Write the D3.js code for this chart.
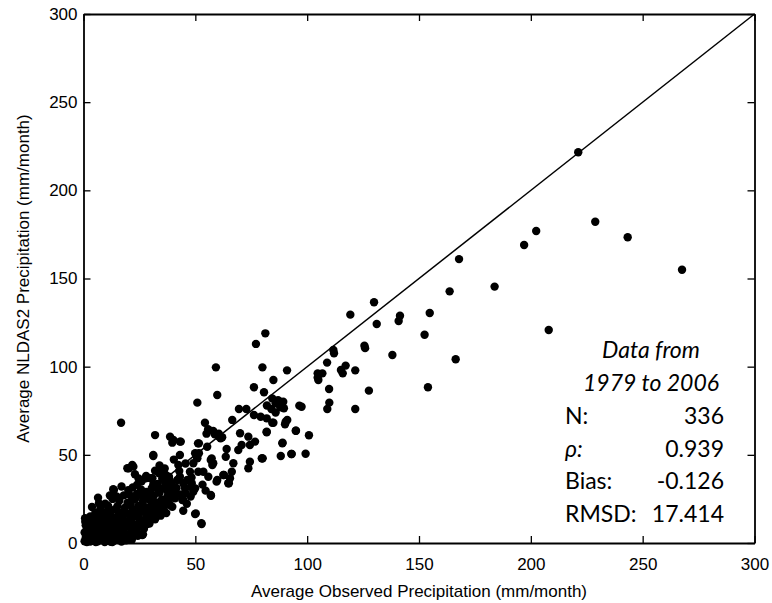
<!DOCTYPE html>
<html>
<head>
<meta charset="utf-8">
<script src="https://cdn.jsdelivr.net/npm/d3@7"></script>
<style>
  body { margin: 0; background: #fff; }
  .axis text { font-family: "Liberation Sans", Arial, sans-serif; font-size: 17px; fill: #000; }
  .axis path { stroke: #000; stroke-width: 1.8; }
  .axis line { stroke: #000; stroke-width: 1.3; }
  .stats text { font-family: Lato, "Open Sans", sans-serif; font-size: 23px; fill: #000; }
</style>
</head>
<body>
<div id="chart"></div>
<script>
// tick values used on both axes
var xTicks = [0, 50, 100, 150, 200, 250, 300];
var yTicks = [0, 50, 100, 150, 200, 250, 300];

// observed (x) vs NLDAS2 (y), mm/month
var scatterPoints = [
  // outliers / upper part
  [221.2,221.6],[228.8,182.2],[243.3,173.4],[267.6,155],[208,120.8],[202.4,176.9],[197,169],
  [167.9,161],[183.8,145.4],[163.7,142.7],[129.9,136.5],[119.3,129.5],[141.5,128.9],[140.9,125.9],
  [154.8,130.4],[131.1,124.2],[152.5,118.1],[125.6,111.9],[125.9,110.5],[111.7,109.5],[112,107.6],
  [108.9,102.3],[138.1,106.6],[166.4,104.2],[104.7,96.2],[106.8,96.2],[104.7,93.8],[117.2,100.6],
  [115.1,98.1],[115.9,96.2],[121.5,97.9],[109.8,87.3],[127.6,86.4],[154,88.3],
  // middle
  [105,92.4],[97.5,77.3],[109.9,79.6],[109,76],[121.5,76],[100.8,61.1],[99.3,50.6],[96.5,77.9],
  [81.3,118.9],[77.1,112.9],[59.2,99.6],[80,99.6],[91,97.9],[84.9,92.4],[80.7,85.5],[76.2,88.3],
  [59.8,83.9],[50.9,79.6],[69.5,76],[72.8,76],[76.2,72.6],[79.2,71.6],[81.9,70.7],[84.4,82],
  [85.9,79.2],[89.3,80.1],[89.6,76.4],[90.4,68.8],[84.4,68.2],[94.9,63.7],[88.9,56.5],[88.2,49.3],
  [92.9,50.5],[81.9,63.1],[79.9,48],[66.5,69.8],[54.3,68.2],[55.7,64.5],[58.7,61.6],[60.6,60.3],
  [61.3,59.4],[32,61.2],[38.7,60.3],[39.7,56.9],[43.5,57.5],[31.2,49.9],[51.2,56.5],[51.6,50.9],
  [50.9,48],[56.9,47.1],[57.6,44.2],[55.3,54.6],[63.6,48.9],[59.8,35.7],[62.8,38.6],[65,33.9],
  [56.9,27.2],[50.2,16.8],[52.7,11.2],[46.4,35.7],[47.9,31.9],[45.7,28.2],[44.2,24.4],[38.2,37.6],
  [41.9,35.7],[39,31.9],[41.2,28.2],[37.5,26.3],[39.7,20.6],[34.5,40.4],[27.8,36.7],[30.8,36.7],
  [19.6,42.4],[21.8,44.2],[13.6,30.1],[26.3,4.5],[12.9,0.5],[16.8,68.2],
  [85.9,74],[88,77],[87,81],[84,76],[82,78],[84.9,68.2],[90.1,67.3],[91.1,69.8],[81.9,62.8],
  [95,63.7],[89,56.9],[80.1,48],[93.1,50.5],[70,62.2],[73.7,60.3],[70.7,55.6],[74.4,55.6],
  [76.7,57.5],[79.7,48],[74.4,46.1],[73.7,42.4],[64,53.3],[69.2,52.7],[67,45.2],[49.9,50.9],
  [50.6,48.9],[43.1,49.9],[57.3,48],[58,45.2],[42.4,44.2],[47.6,40.4],[51.3,40.4],[53.6,40.4],
  [49.1,45.2],[62.5,38.6],[66.3,40.4],[65.5,36.7],[64.7,33.9],[59.5,34.8],[43.1,37.6],[44.6,33.9],
  [45.4,31],[48.4,33.9],[49.9,31],[49.1,29.1],[39.4,33.9],[39.4,29.1],[40.9,25.3],[44.6,24.4],
  [38.7,21.6],[47.9,26.3],[57,26.8],[44.6,18.3],[49.9,16.4],[52.8,10.8],[43.1,57.5],[40.2,58.4],
  [51.6,56.5],[55,62],[58,63.5],[60.5,62],[62,60],[31.2,49.3],[20.3,42.4],[22.3,43.3],[30,36.7],
  [33.8,39.5],[36.8,38.6],[38.2,36.7],[13.3,30.5],[6.5,25.7],[6.9,22.5],[0.7,14],[3.7,13],
  [6.6,12.1],[26.6,4.9],[12.2,0.7],
  // dense cluster near the origin
  [0.5,1],[1,3],[1.5,0.5],[2,5],[2.5,2],[3,0.8],[3.5,7],[4,3.5],[4.5,1.5],[5,9],[5,5.5],[5.5,0.5],
  [6,3],[6.5,7.5],[7,1.5],[7.5,10],[8,5],[8.5,2.5],[9,8],[9.5,0.6],[10,4],[10.5,11],[11,6.5],
  [11.5,2],[12,9],[1,10],[2,12.5],[3,15],[0.5,6],[4,11],[1.5,8],[6,14],[8,12],[10,14],[12,4.5],
  [13,7],[13.5,1.2],[14,11],[14.5,4],[15,8.5],[9,2],
  [15,13],[15.5,2],[16,5.5],[16.5,17],[17,10],[17.5,14.5],[18,7.5],[18.5,20],[19,12],[19.5,3],
  [20,16.5],[20.5,9],[21,22],[21.5,13.5],[22,19],[22.5,6],[23,25],[23.5,15.5],[24,10.5],[24.5,21],
  [25,27.5],[25.5,17.5],[26,13],[26.5,23.5],[27,8],[27.5,19.5],[28,29],[28.5,15],[29,25],[29.5,11],
  [30,21],[30.5,31],[31,17],[31.5,27],[32,13.5],[32.5,23],[33,33.5],[33.5,19],[34,28.5],[34.5,15.5],
  [35,24.5],[35.5,31],[36,20.5],[36.5,34],[37,17],[37.5,29.5],[38,24],[16,24],[18,27],[14,19],
  [12,16],[11,21],[20,30],[22,31.5],[24,33],[10,17.5],[8,16],[13,25],[26,35],[28,38],[32,41],
  [34,44],[17,32],[23,39],[19,1.5],[22,3.5],[17,0.8],
  [2.7,4.2],[5.8,2.2],[7.2,6.3],[9.8,9.6],[11.2,12.8],[13.8,9.4],[15.8,11.6],[16.7,7.3],[18.6,4.6],
  [19.8,9.9],[20.9,5.2],[21.4,11.2],[23.2,8.3],[24.8,13.9],[24.3,4.1],[26.3,11.3],[27.8,16.7],
  [28.9,12.3],[29.6,18.8],[30.8,14.6],[31.9,20.2],[33.2,16.8],[34.1,21.6],[35.8,18.4],[36.9,23.1],
  [38.9,27.1],[37.7,32.4],[35.2,36.6],[33.1,30.8],[31.2,33.2],[29.2,28.1],[27.2,25.6],[25.7,30.4],
  [23.9,27.8],[21.8,25.3],[19.7,22.8],[18.1,18.2],[15.2,20.9],[13.1,14.4],[11.7,18.6],[9.3,13.4],
  [7.6,19.7],[5.3,17.2],[3.8,20.4],[2.4,9.2],[1.2,4.7],[0.8,12.1],[6.8,10.8],[17.3,12.6],
  [22.7,16.9],[26.9,20.8],[41.6,31.2],[43.7,27.6],[46.2,22.3],[48.3,37.2],[53.2,33.1],[55.8,37.6],
  [54.6,29.7],[42.8,40.8],[36.3,42.3],[40.4,47.3],[45.6,45.1],[30.3,25.4],[20.4,27.6],[24.6,36.6],
  [14.8,26.4],[9.7,22.3],[11.8,26.9],
  [1.8,2.6],[3.2,5.8],[4.8,3.8],[6.2,0.9],[7.8,3.3],[8.8,7],[10.8,1.4],[11.9,7.6],[13.2,3.2],
  [14.6,6.6],[16.2,3.4],[17.6,5.4],[18.8,9.2],[20.2,12.6],[22.4,9.8],[4.2,8.6],[6.4,5],[10.2,6],
  [12.6,11.4],[15.6,15.6],[2.2,7.4],[8.2,9.6],[21.6,1.8],[23.8,6.6],[25.8,9.6],[28.2,10.6],[30.2,16.8]
];

var statsTitle = ["Data from", "1979 to 2006"];
var statLabels = ["N:", "\u03C1:", "Bias:", "RMSD:"];
var statValues = ["336", "0.939", "-0.126", "17.414"];

var width = 772, height = 603;
var margin = {top: 14, right: 17.5, bottom: 60, left: 83.5};
var plotW = width - margin.left - margin.right,
    plotH = height - margin.top - margin.bottom;

var svg = d3.select("#chart").append("svg")
    .attr("width", width)
    .attr("height", height);

var g = svg.append("g")
    .attr("transform", "translate(" + margin.left + "," + margin.top + ")");

var x = d3.scaleLinear().domain([0, 300]).range([0, plotW]);
var y = d3.scaleLinear().domain([0, 300]).range([plotH, 0]);

// 1:1 line
g.append("line")
    .attr("x1", x(0)).attr("y1", y(0))
    .attr("x2", x(300)).attr("y2", y(300))
    .style("stroke", "#000")
    .style("stroke-width", 1.5);

// dots
g.selectAll("circle.dot").data(scatterPoints)
  .enter().append("circle")
    .attr("class", "dot")
    .attr("cx", function(d) { return x(d[0]); })
    .attr("cy", function(d) { return y(d[1]); })
    .attr("r", 4.2)
    .style("fill", "#000");

// axes, ticks pointing inward on all four sides
g.append("g").attr("class", "axis")
    .attr("transform", "translate(0," + plotH + ")")
    .call(d3.axisBottom(x).tickValues(xTicks).tickSize(-7).tickSizeOuter(0).tickPadding(15));
g.append("g").attr("class", "axis")
    .call(d3.axisLeft(y).tickValues(yTicks).tickSize(-7).tickSizeOuter(0).tickPadding(6));
g.append("g").attr("class", "axis")
    .call(d3.axisTop(x).tickValues(xTicks).tickSize(-7).tickSizeOuter(0).tickFormat(""));
g.append("g").attr("class", "axis")
    .attr("transform", "translate(" + plotW + ",0)")
    .call(d3.axisRight(y).tickValues(yTicks).tickSize(-7).tickSizeOuter(0).tickFormat(""));

// axis titles
svg.append("text")
    .attr("x", margin.left + plotW / 2)
    .attr("y", 597)
    .attr("text-anchor", "middle")
    .style("font-family", "'Liberation Sans', Arial, sans-serif")
    .style("font-size", "17px")
    .text("Average Observed Precipitation (mm/month)");

svg.append("text")
    .attr("transform", "translate(29," + (margin.top + plotH / 2) + ") rotate(-90)")
    .attr("text-anchor", "middle")
    .style("font-family", "'Liberation Sans', Arial, sans-serif")
    .style("font-size", "17px")
    .text("Average NLDAS2 Precipitation (mm/month)");

// stats box
var stats = svg.append("g").attr("class", "stats");
stats.selectAll("text.ttl").data(statsTitle)
  .enter().append("text")
    .attr("class", "ttl")
    .attr("x", 651)
    .attr("y", function(d, i) { return 358 + i * 33; })
    .attr("text-anchor", "middle")
    .style("font-style", "italic")
    .text(function(d) { return d; });

stats.selectAll("text.lbl").data(statLabels)
  .enter().append("text")
    .attr("class", "lbl")
    .attr("x", 565)
    .attr("y", function(d, i) { return 424 + i * 32.7; })
    .style("font-style", function(d, i) { return i === 1 ? "italic" : null; })
    .text(function(d) { return d; });

stats.selectAll("text.val").data(statValues)
  .enter().append("text")
    .attr("class", "val")
    .attr("x", 724)
    .attr("y", function(d, i) { return 424 + i * 32.7; })
    .attr("text-anchor", "end")
    .text(function(d) { return d; });
</script>
</body>
</html>
